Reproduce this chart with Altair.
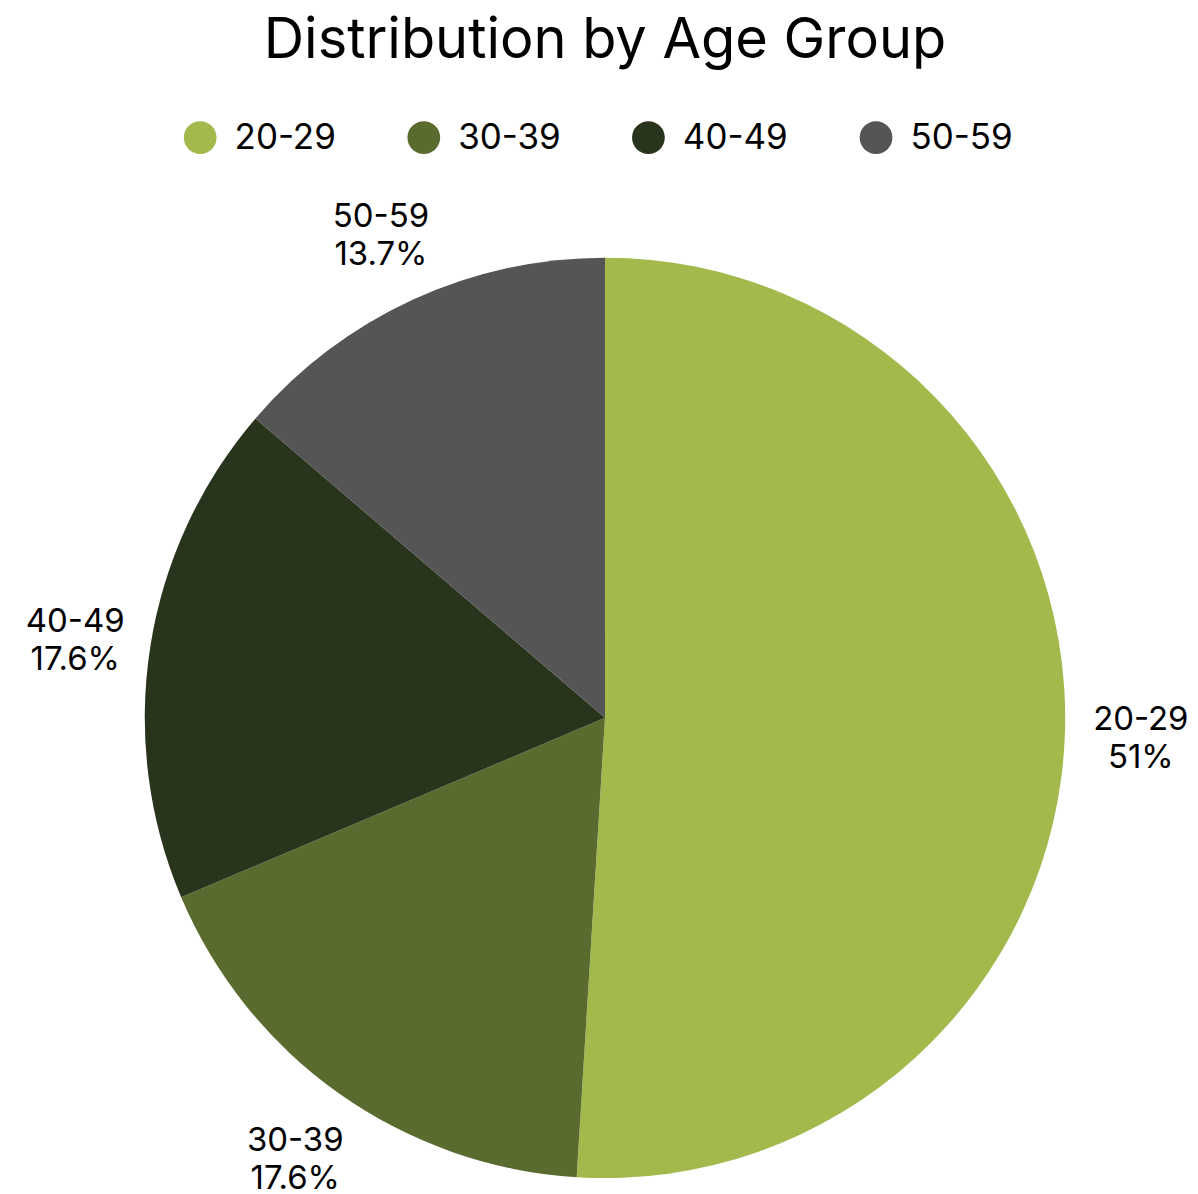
import altair as alt
import pandas as pd

groups = ["20-29", "30-39", "40-49", "50-59"]
counts = [26, 9, 9, 7]
colors = ["#a3b94c", "#5a6b30", "#29341c", "#555555"]

total = sum(counts)
def fmt(c):
    p = round(c / total * 100, 1)
    s = f"{p:.1f}"
    if s.endswith(".0"):
        s = s[:-2]
    return s + "%"

df = pd.DataFrame({
    "group": groups,
    "count": counts,
    "order": list(range(len(groups))),
    "label": [f"{g}\n{fmt(c)}" for g, c in zip(groups, counts)],
})

FONT = "Inter"

base = alt.Chart(df).encode(
    theta=alt.Theta("count:Q", stack=True),
    order=alt.Order("order:Q"),
)

pie = base.mark_arc(outerRadius=461).encode(
    color=alt.Color(
        "group:N",
        scale=alt.Scale(domain=groups, range=colors),
        legend=alt.Legend(
            title=None,
            orient="none",
            legendX=163,
            legendY=-59,
            direction="horizontal",
            symbolType="circle",
            symbolSize=1075,
            symbolStrokeWidth=0,
            symbolOpacity=1,
            labelFontSize=35,
            labelFont=FONT,
            labelColor="#000000",
            labelOffset=17,
            columnPadding=70,
        ),
    )
)

labels = base.mark_text(
    radius=537, fontSize=33, font=FONT, lineBreak="\n", lineHeight=38,
    align="center", baseline="middle", dy=-14, color="#000000"
).encode(text="label:N")

chart = (pie + labels).properties(
    width=1172,
    height=1080,
    padding={"left": 12, "top": 170, "right": 0, "bottom": 0},
    autosize=alt.AutoSizeParams(type="none"),
    title=alt.TitleParams(
        "Distribution by Age Group", fontSize=56, font=FONT,
        fontWeight="normal", color="#000000", anchor="middle", offset=50,
    ),
).configure_view(stroke=None)

chart.save("out.html", embed_options={"renderer": "svg", "actions": False})
